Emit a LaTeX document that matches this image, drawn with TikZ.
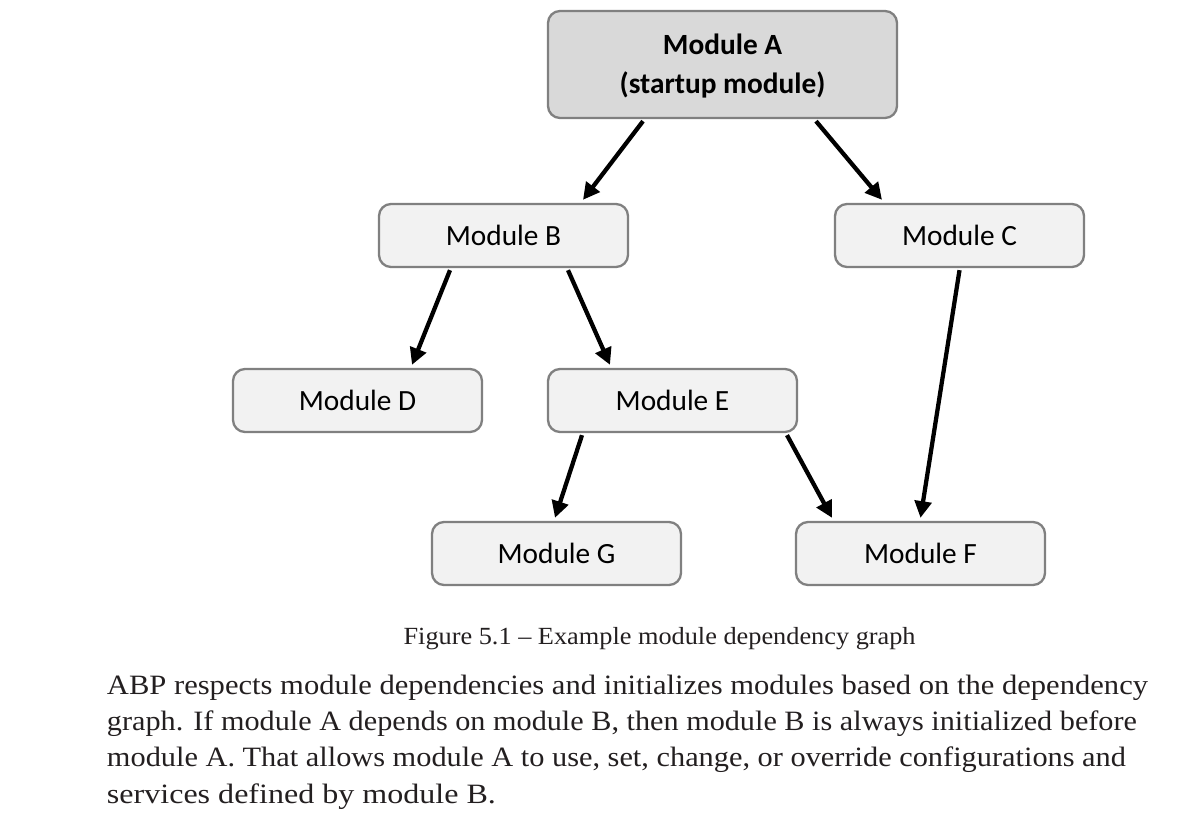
\documentclass[tikz,border=0pt]{standalone}
\usepackage{fontspec}
\usepackage{graphicx}
\setmainfont{Liberation Serif}
\newfontfamily\boxfont{Carlito}
\usetikzlibrary{arrows.meta,calc}
\definecolor{boxfill}{HTML}{F2F2F2}
\definecolor{startfill}{HTML}{D9D9D9}
\definecolor{boxline}{HTML}{808080}
\definecolor{textcol}{HTML}{231F20}
\tikzset{
  modbox/.style={draw=boxline, line width=1.75pt, fill=boxfill, rounded corners=9pt,
    minimum width=249*0.75pt, minimum height=63*0.75pt, inner sep=0pt,
    font=\boxfont\fontsize{22}{29}\selectfont},
  startbox/.style={modbox, fill=startfill, minimum width=349*0.75pt, minimum height=107*0.75pt,
    font=\boxfont\bfseries\fontsize{22}{29.5}\selectfont, align=center, text depth=1.5pt},
  dep/.style={line width=3.2pt, -{Triangle[length=12.5pt,width=12.5pt]}},
  bodyline/.style={anchor=base west, inner sep=0pt, text=textcol, font=\fontsize{21}{27}\selectfont},
}
\begin{document}
\begin{tikzpicture}[x=0.75pt,y=-0.75pt]
\useasboundingbox (0,0) rectangle (1195,823);
\node[startbox] (A) at (722.5,64.5) {Module A\\(startup module)};
\node[modbox] (B) at (503.5,235.5) {Module B};
\node[modbox] (C) at (959.5,235.5) {Module C};
\node[modbox] (D) at (357.5,400.5) {Module D};
\node[modbox] (E) at (672.5,400.5) {Module E};
\node[modbox] (G) at (556.5,553.5) {Module G};
\node[modbox] (F) at (920.5,553.5) {Module F};

\draw[dep] ($(A.south)+(-79.5,2)$) -- ($(B.north)+(79.5,-3)$);
\draw[dep] ($(A.south)+(93.5,2)$) -- ($(C.north)+(-77.5,-3)$);
\draw[dep] ($(B.south)+(-53.5,2)$) -- ($(D.north)+(54.5,-3)$);
\draw[dep] ($(B.south)+(64.5,2)$) -- ($(E.north)+(-62.5,-3)$);
\draw[dep] ($(C.south)+(0,2)$) -- ($(F.north)+(0,-3)$);
\draw[dep] ($(E.south)+(-90.5,2)$) -- ($(G.north)+(-1.5,-3)$);
\draw[dep] ($(E.south)+(114.5,2)$) -- ($(F.north)+(-88.5,-3)$);

\node[bodyline, font=\fontsize{18.5}{22}\selectfont] (cap) at (403.3,644.3)
  {\resizebox{384pt}{\height}{Figure 5.1 – Example module dependency graph}};
\node[bodyline] (l1) at (106.7,694.3)
  {\resizebox{780.75pt}{\height}{ABP respects module dependencies and initializes modules based on the dependency}};
\node[bodyline] (l2) at (106.7,730.5)
  {\resizebox{772.5pt}{\height}{graph. If module A depends on module B, then module B is always initialized before}};
\node[bodyline] (l3) at (106.7,766.8)
  {\resizebox{764.25pt}{\height}{module A. That allows module A to use, set, change, or override configurations and}};
\node[bodyline] (l4) at (106.7,803)
  {\resizebox{291.75pt}{\height}{services defined by module B.}};
\end{tikzpicture}
\end{document}
